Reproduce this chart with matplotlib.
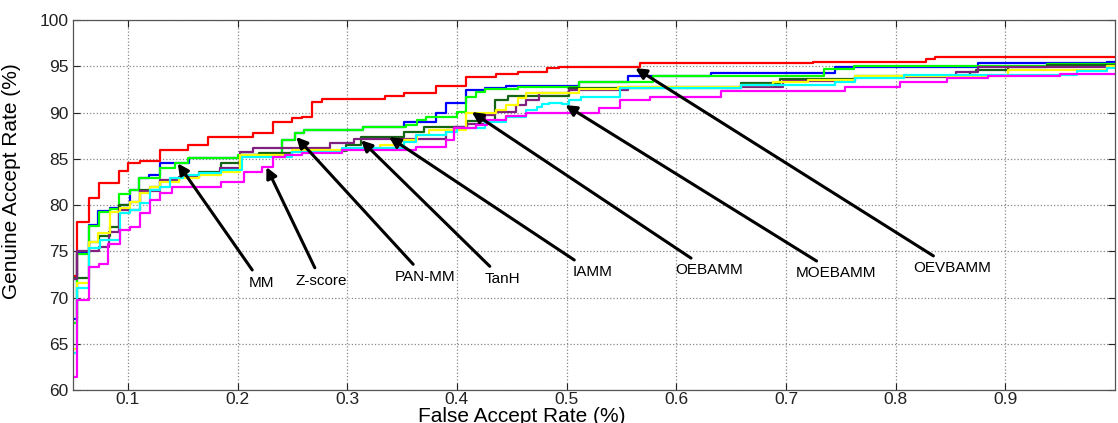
import matplotlib
matplotlib.use("Agg")
import matplotlib.pyplot as plt

plt.rcParams['font.family'] = ['Liberation Sans', 'DejaVu Sans']

# ---- data (FAR in %, GAR in %) ----
far_r = [0.050,0.054,0.065,0.074,0.092,0.100,0.111,0.129,0.155,0.173,0.214,0.232,0.250,0.259,0.268,0.277,0.334,0.352,0.381,0.408,0.436,0.456,0.482,0.493,0.567,0.725,0.828,0.836,1.000]
gar_r = [72.3,78.2,80.8,82.4,83.7,84.5,84.8,85.9,86.5,87.4,87.8,89.0,89.4,89.5,91.1,91.5,91.8,92.1,92.9,93.8,94.2,94.4,94.8,94.9,95.3,95.5,95.8,96.0,96.0]

far_b = [0.050,0.054,0.065,0.073,0.084,0.093,0.102,0.110,0.119,0.129,0.156,0.202,0.241,0.252,0.261,0.314,0.352,0.381,0.390,0.408,0.426,0.445,0.511,0.556,0.632,0.745,0.875,0.993,1.000]
gar_b = [67.7,74.9,77.8,79.4,79.7,80.0,81.6,82.9,83.2,84.5,85.1,85.4,87.0,87.8,88.1,88.4,89.0,90.0,91.0,92.4,92.6,92.9,93.3,93.9,94.3,94.9,95.3,95.5,95.5]

far_g = [0.050,0.054,0.065,0.074,0.084,0.092,0.102,0.110,0.129,0.143,0.155,0.200,0.241,0.252,0.261,0.314,0.354,0.364,0.372,0.400,0.408,0.417,0.426,0.456,0.511,0.579,0.735,0.762,0.938,1.000]
gar_g = [67.2,74.7,77.7,79.2,79.6,81.2,81.6,82.9,84.0,84.5,85.1,85.4,87.0,87.8,88.1,88.4,88.7,89.2,89.5,90.1,91.7,92.2,92.5,92.8,93.3,93.9,94.7,95.0,95.2,95.2]

far_dg = [0.050,0.065,0.074,0.084,0.092,0.102,0.111,0.120,0.129,0.147,0.165,0.185,0.202,0.220,0.250,0.299,0.313,0.352,0.370,0.409,0.435,0.447,0.502,0.659,0.695,0.763,0.868,0.873,0.902,0.938,1.000]
gar_dg = [72.1,76.0,76.6,77.6,80.0,80.3,81.6,81.9,82.6,83.0,83.6,84.5,85.4,85.6,85.8,86.5,87.4,87.9,88.4,89.1,91.4,91.8,92.6,93.2,93.6,94.0,94.4,94.6,94.9,95.1,95.1]

far_p = [0.050,0.054,0.074,0.083,0.092,0.111,0.129,0.147,0.165,0.184,0.202,0.214,0.284,0.306,0.390,0.397,0.409,0.426,0.435,0.454,0.463,0.475,0.502,0.556,0.697,0.763,0.855,0.875,1.000]
gar_p = [72.0,75.0,75.5,77.1,79.5,81.5,82.7,83.0,83.4,84.0,85.7,86.2,86.7,87.1,88.1,88.4,88.8,89.7,90.1,90.8,91.4,92.1,92.4,92.8,93.4,93.8,94.4,94.9,94.9]

far_y = [0.050,0.054,0.065,0.073,0.084,0.093,0.102,0.111,0.120,0.129,0.147,0.165,0.185,0.202,0.250,0.299,0.330,0.352,0.364,0.375,0.408,0.436,0.445,0.456,0.463,0.511,0.547,0.659,0.688,0.720,0.763,0.902,0.993,1.000]
gar_y = [64.4,71.6,76.0,77.0,79.2,79.7,80.3,81.3,82.0,82.5,82.9,83.2,83.6,85.4,85.9,86.1,86.5,87.0,87.6,88.1,90.0,90.3,90.8,91.6,92.1,92.5,92.8,93.0,93.3,93.5,94.0,94.6,95.0,95.0]

far_c = [0.050,0.054,0.065,0.075,0.093,0.102,0.111,0.120,0.129,0.138,0.150,0.165,0.185,0.204,0.250,0.295,0.352,0.363,0.390,0.400,0.426,0.445,0.463,0.473,0.478,0.484,0.496,0.502,0.513,0.549,0.659,0.745,0.763,0.808,0.965,0.993,1.000]
gar_c = [64.0,71.0,75.4,76.2,79.1,79.5,80.2,81.6,82.0,82.9,83.2,83.5,83.8,85.2,85.7,86.2,86.8,87.6,87.9,88.3,89.0,89.5,90.3,90.6,90.9,91.0,90.9,91.4,91.7,92.6,93.0,93.3,93.7,94.1,94.5,94.8,94.8]

far_m = [0.050,0.054,0.065,0.074,0.082,0.093,0.102,0.111,0.120,0.129,0.140,0.185,0.206,0.222,0.232,0.243,0.259,0.295,0.363,0.390,0.397,0.417,0.427,0.445,0.463,0.530,0.549,0.576,0.641,0.754,0.804,0.847,0.884,0.950,1.000]
gar_m = [61.4,69.7,73.3,73.6,75.8,77.3,77.6,79.1,80.5,81.3,82.0,82.5,83.6,84.1,85.2,85.4,85.6,85.9,86.3,87.0,88.3,88.6,89.2,89.6,90.0,90.5,91.4,91.7,92.3,92.8,93.3,93.7,94.0,94.2,94.2]

series = [
    (far_b, gar_b, '#0000FF'),
    (far_g, gar_g, '#00FF00'),
    (far_r, gar_r, '#FF0000'),
    (far_dg, gar_dg, '#146414'),
    (far_p, gar_p, '#7F1F7F'),
    (far_y, gar_y, '#FFFF00'),
    (far_c, gar_c, '#00FFFF'),
    (far_m, gar_m, '#FF00FF'),
]

method_labels = ['MM', 'Z-score', 'PAN-MM', 'TanH', 'IAMM', 'OEBAMM', 'MOEBAMM', 'OEVBAMM']
arrow_tip_far = [0.1455, 0.2264, 0.2536, 0.3127, 0.3382, 0.4136, 0.4990, 0.5627]
arrow_tip_gar = [84.5, 84.1, 87.35, 87.0, 87.35, 90.05, 90.8, 94.8]
label_far = [0.2218, 0.2764, 0.3709, 0.4418, 0.5236, 0.6300, 0.7455, 0.8518]
label_gar = [71.55, 71.75, 72.2, 72.0, 72.75, 72.95, 72.65, 73.2]

xticks = [0.1, 0.2, 0.3, 0.4, 0.5, 0.6, 0.7, 0.8, 0.9]
yticks = [60, 65, 70, 75, 80, 85, 90, 95, 100]

W, H = 1118, 423
fig = plt.figure(figsize=(W / 100, H / 100), dpi=100)
ax = fig.add_axes([73 / W, 1 - 390 / H, (1115 - 73) / W, (390 - 20) / H])

for fx, gy, col in series:
    ax.plot(fx, gy, drawstyle='steps-post', color=col, lw=1.6)

for lab, tx, ty, lx, ly in zip(method_labels, arrow_tip_far, arrow_tip_gar, label_far, label_gar):
    ax.annotate(lab, xy=(tx, ty), xytext=(lx, ly), ha='center', va='center',
                fontsize=11, color='black',
                arrowprops=dict(arrowstyle='-|>', color='black', lw=2.2,
                                mutation_scale=16, shrinkA=3, shrinkB=0))

ax.set_xlim(0.05, 1.0)
ax.set_ylim(60, 100)
ax.set_xticks(xticks)
ax.set_yticks(yticks)
ax.set_xticklabels([f'{v:g}' for v in xticks])
ax.set_yticklabels([str(v) for v in yticks])
ax.tick_params(direction='in', length=5, width=0.8, top=True, right=True,
               labelsize=12.5, pad=3, colors='#222222')
ax.tick_params(axis='x', pad=1.5)
ax.grid(True, linestyle=':', color='#888888', linewidth=0.9)
for s in ax.spines.values():
    s.set_color('#555555')
    s.set_linewidth(0.9)

ax.set_xlabel('False Accept Rate (%)', fontsize=15)
ax.xaxis.set_label_coords(0.431, -0.047)
ax.xaxis.label.set_va('top')
ax.set_ylabel('Genuine Accept Rate (%)', fontsize=15)
ax.yaxis.set_label_coords(-0.050, 0.565)

fig.savefig('out.png', dpi=100)
